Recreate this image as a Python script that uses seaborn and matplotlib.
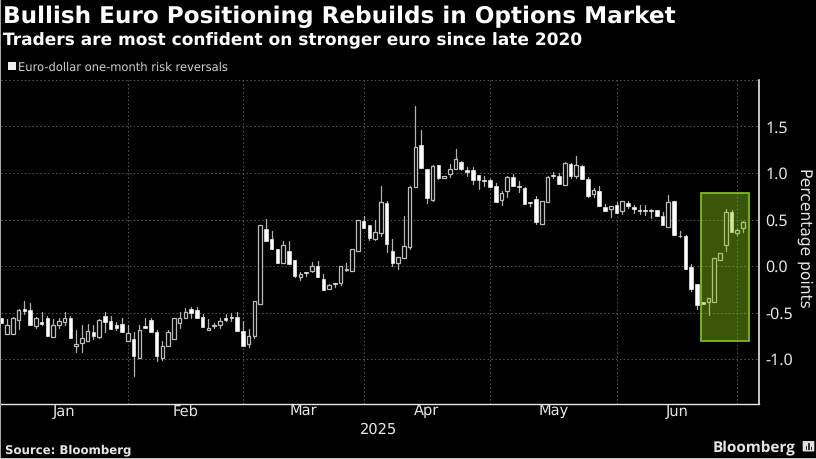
import matplotlib
matplotlib.use('Agg')
import matplotlib.pyplot as plt
import pandas as pd
import seaborn as sns
from matplotlib.patches import FancyBboxPatch, Rectangle

opens = [-0.557, -0.736, -0.729, -0.579, -0.457, -0.468, -0.643, -0.607, -0.564, -0.764,
         -0.639, -0.604, -0.557, -0.857, -0.829, -0.804, -0.704, -0.761, -0.532, -0.596,
         -0.639, -0.618, -0.807, -0.782, -0.989, -0.643, -0.579, -0.707, -0.993, -0.857,
         -0.786, -0.611, -0.561, -0.457, -0.475, -0.543, -0.686, -0.64, -0.636, -0.557,
         -0.55, -0.543, -0.696, -0.843, -0.754, -0.407, 0.40, 0.293, 0.186, 0.029,
         0.164, 0.061, -0.118, -0.061, -0.05, 0.0, -0.136, -0.25, -0.186, -0.186,
         -0.046, -0.05, 0.164, 0.489, 0.443, 0.286, 0.35, 0.682, 0.157, 0.029,
         0.082, 0.207, 0.846, 1.30, 1.043, 0.714, 1.082, 0.946, 0.986, 1.039,
         1.121, 1.032, 1.032, 0.979, 0.929, 0.921, 0.864, 0.707, 0.804, 0.961,
         0.861, 0.839, 0.693, 0.725, 0.454, 0.693, 0.979, 0.971, 0.872, 1.10,
         0.972, 1.075, 0.94, 0.772, 0.808, 0.637, 0.616, 0.655, 0.594, 0.68,
         0.637, 0.598, 0.598, 0.601, 0.605, 0.541, 0.423, 0.701, 0.325, 0.324,
         -0.009, -0.195, -0.382, -0.385, -0.392, 0.07, 0.228, 0.586, 0.36, 0.41]
closes = [-0.614, -0.632, -0.557, -0.471, -0.486, -0.636, -0.557, -0.621, -0.754, -0.639,
          -0.596, -0.557, -0.779, -0.836, -0.775, -0.70, -0.754, -0.575, -0.60, -0.675,
          -0.664, -0.707, -0.718, -0.964, -0.693, -0.661, -0.714, -0.971, -0.864, -0.707,
          -0.564, -0.557, -0.493, -0.504, -0.561, -0.657, -0.664, -0.632, -0.586, -0.575,
          -0.564, -0.696, -0.857, -0.75, -0.379, 0.446, 0.264, 0.186, 0.029, 0.221,
          0.021, -0.111, -0.089, -0.071, 0.004, -0.118, -0.254, -0.204, -0.189, 0.0,
          -0.036, 0.179, 0.496, 0.414, 0.296, 0.361, 0.689, 0.239, 0.036, 0.093,
          0.211, 0.85, 1.282, 1.054, 0.729, 1.079, 0.946, 0.968, 1.039, 1.15,
          1.043, 1.011, 0.929, 0.921, 0.914, 0.85, 0.693, 0.786, 0.961, 0.861,
          0.846, 0.664, 0.679, 0.471, 0.70, 0.961, 0.968, 0.882, 1.107, 0.972,
          1.082, 0.94, 0.751, 0.815, 0.648, 0.594, 0.641, 0.573, 0.694, 0.641,
          0.612, 0.587, 0.587, 0.591, 0.534, 0.438, 0.687, 0.335, 0.32, -0.027,
          -0.245, -0.418, -0.41, -0.349, 0.091, 0.145, 0.586, 0.367, 0.389, 0.468]
highs = [-0.557, -0.568, -0.55, -0.46, -0.371, -0.396, -0.55, -0.489, -0.532, -0.568,
         -0.561, -0.489, -0.532, -0.693, -0.639, -0.621, -0.639, -0.568, -0.496, -0.54,
         -0.604, -0.557, -0.639, -0.711, -0.639, -0.557, -0.561, -0.693, -0.807, -0.693,
         -0.557, -0.496, -0.454, -0.436, -0.443, -0.521, -0.568, -0.61, -0.557, -0.521,
         -0.507, -0.496, -0.586, -0.682, -0.379, 0.446, 0.504, 0.379, 0.186, 0.271,
         0.268, 0.068, -0.064, -0.061, 0.043, 0.05, -0.086, -0.189, -0.186, 0.0,
         0.029, 0.179, 0.496, 0.543, 0.443, 0.50, 0.857, 0.704, 0.286, 0.093,
         0.539, 0.857, 1.721, 1.461, 1.043, 1.086, 1.089, 0.968, 1.096, 1.257,
         1.132, 1.068, 1.061, 0.979, 0.968, 0.936, 0.889, 0.811, 0.971, 0.986,
         0.918, 0.846, 0.693, 0.757, 0.70, 0.971, 1.014, 1.0, 1.121, 1.11,
         1.185, 1.085, 0.954, 0.843, 0.861, 0.669, 0.641, 0.687, 0.694, 0.698,
         0.658, 0.651, 0.651, 0.608, 0.605, 0.577, 0.765, 0.701, 0.375, 0.33,
         0.027, -0.188, -0.382, -0.349, 0.091, 0.145, 0.611, 0.60, 0.403, 0.486]
lows = [-0.614, -0.736, -0.729, -0.675, -0.514, -0.636, -0.664, -0.632, -0.754, -0.764,
        -0.664, -0.632, -0.779, -0.929, -0.929, -0.804, -0.789, -0.775, -0.704, -0.675,
        -0.693, -0.707, -0.807, -1.186, -0.989, -0.661, -0.714, -1.021, -1.007, -0.857,
        -0.786, -0.664, -0.561, -0.557, -0.561, -0.657, -0.686, -0.67, -0.664, -0.596,
        -0.593, -0.696, -0.857, -0.871, -0.779, -0.407, 0.264, 0.186, 0.029, 0.029,
        0.021, -0.121, -0.15, -0.107, -0.068, -0.118, -0.254, -0.25, -0.229, -0.2,
        -0.05, -0.05, 0.164, 0.414, 0.279, 0.279, 0.325, 0.154, 0.0, -0.032,
        0.082, 0.186, 0.846, 1.054, 0.675, 0.696, 0.936, 0.946, 0.961, 1.039,
        1.036, 0.971, 0.879, 0.829, 0.864, 0.85, 0.693, 0.661, 0.743, 0.861,
        0.793, 0.664, 0.643, 0.454, 0.454, 0.693, 0.946, 0.882, 0.872, 0.947,
        0.947, 0.94, 0.74, 0.74, 0.641, 0.594, 0.527, 0.569, 0.562, 0.626,
        0.569, 0.555, 0.544, 0.52, 0.534, 0.438, 0.423, 0.335, 0.31, -0.027,
        -0.267, -0.464, -0.41, -0.529, -0.392, 0.07, 0.159, 0.367, 0.332, 0.367]

month_labels = ['Jan', 'Feb', 'Mar', 'Apr', 'May', 'Jun']
year_label = '2025'
y_ticks = [-1.0, -0.5, 0.0, 0.5, 1.0, 1.5]

sns.set_theme(style='dark', rc={
    'figure.facecolor': 'black', 'axes.facecolor': 'black', 'savefig.facecolor': 'black',
    'text.color': '#e6e6e6', 'axes.labelcolor': '#e6e6e6',
    'xtick.color': '#e6e6e6', 'ytick.color': '#e6e6e6', 'axes.edgecolor': '#e6e6e6',
    'axes.unicode_minus': False, 'text.hinting': 'no_hinting',
})
plt.rcParams['font.family'] = ['DejaVu Sans']

dates = pd.bdate_range('2025-01-01', periods=len(opens))
df = pd.DataFrame({'open': opens, 'close': closes, 'high': highs, 'low': lows}, index=dates)
df['bar'] = range(len(df))

fig = plt.figure(figsize=(8.16, 4.59), dpi=100)
ax = fig.add_axes([0.6 / 816, 1 - 403.5 / 459, 758.7 / 816, 324 / 459])

# wicks, one short line per session
wicks = df.melt(id_vars='bar', value_vars=['low', 'high'], value_name='value')
sns.lineplot(data=wicks, x='bar', y='value', units='bar', estimator=None,
             color='#b0b0b0', linewidth=0.9, legend=False, ax=ax, zorder=3)

# bodies, white when the session closed lower, hollow when higher
down = df[df['close'] < df['open']]
up = df[df['close'] >= df['open']]
ax.bar(down['bar'], (down['open'] - down['close']), bottom=down['close'], width=0.62,
       color='white', edgecolor='#e8e8e8', linewidth=0.5, zorder=4)
ax.bar(up['bar'], (up['close'] - up['open']), bottom=up['open'], width=0.62,
       color='black', edgecolor='#bcbcbc', linewidth=0.9, zorder=4)

ax.set_xlim(-0.12, 131.83)
ax.set_ylim(-1.478, 2.005)
ax.set_xlabel('')
ax.set_ylabel('')

# month boundaries sit on the last session of each month
month_ends = [df.index.get_loc(g.index[-1]) for _, g in df.groupby(df.index.month)][:6]
starts = [-0.12] + month_ends[:-1]
centers = [(a + b) / 2 for a, b in zip(starts, month_ends)]
ax.set_xticks(month_ends)
ax.set_xticklabels([])
ax.set_xticks(centers, minor=True)
ax.set_xticklabels(month_labels, minor=True, fontsize=10.5)
ax.tick_params(axis='x', which='major', length=3, width=0.8, color='#e6e6e6')
ax.tick_params(axis='x', which='minor', length=0, pad=1)

ax.yaxis.tick_right()
ax.set_yticks(y_ticks + [2.0])
ax.set_yticklabels([f'{v:.1f}' for v in y_ticks] + [''], fontsize=11.5, family='Noto Sans')
ax.set_yticks([-1.25, -0.75, -0.25, 0.25, 0.75, 1.25, 1.75], minor=True)
ax.tick_params(axis='y', which='major', length=3, width=1.0, pad=1.5)
ax.tick_params(axis='y', which='minor', direction='in', length=2, width=0.8, color='#8a8a8a')

for y in [-1.0, -0.5, 0.0, 0.5, 1.0, 1.5, 2.0]:
    ax.axhline(y, color='#5a5a5a', linewidth=0.7, linestyle=(0, (1.5, 2.5)), zorder=1)
for x in month_ends:
    ax.axvline(x, color='#5a5a5a', linewidth=0.7, linestyle=(0, (1.5, 2.5)), zorder=1)

sns.despine(ax=ax, top=True, left=True, right=False, bottom=False)
ax.spines['right'].set_linewidth(1.2)
ax.spines['bottom'].set_linewidth(1.0)

# highlighted last sessions
ax.add_patch(Rectangle((121.75, -0.81), 8.25, 1.595, facecolor='#8ccf14', alpha=0.42,
                       edgecolor='none', zorder=5))
ax.add_patch(Rectangle((121.75, -0.81), 8.25, 1.595, facecolor='none',
                       edgecolor='#7cbb1e', linewidth=1.3, zorder=6))

def px_text(x, y, s, **kw):
    fig.text(x / 816, 1 - y / 459, s, **kw)

px_text(3, 23, 'Bullish Euro Positioning Rebuilds in Options Market', fontsize=16.65,
        fontweight='bold', color='white')
px_text(3, 45, 'Traders are most confident on stronger euro since late 2020', fontsize=12.25,
        fontweight='bold', color='white')
fig.patches.append(Rectangle((8 / 816, 1 - 70 / 459), 7.5 / 816, 8 / 459, facecolor='#ececec',
                             edgecolor='none', transform=fig.transFigure))
px_text(18, 71, 'Euro-dollar one-month risk reversals', fontsize=8.3, color='#d0d0d0')
px_text(379, 434, year_label, fontsize=10.5, ha='center', color='#e6e6e6')
px_text(805, 238, 'Percentage points', fontsize=11.2, rotation=-90, ha='center', va='center',
        color='#e6e6e6')
px_text(5, 453, 'Source: Bloomberg', fontsize=8.5, fontweight='bold', color='#e6e6e6')
px_text(713, 452, 'Bloomberg', fontsize=11, fontweight='bold', color='#e6e6e6', family='Open Sans')

# small terminal icon next to the wordmark
fig.patches.append(FancyBboxPatch((803.5 / 816, 1 - 451 / 459), 10 / 816, 9.5 / 459,
                                  boxstyle='round,pad=0.001', facecolor='#e0e0e0',
                                  edgecolor='none', transform=fig.transFigure))
for bx, bh in [(806, 4), (808.3, 7), (810.6, 3)]:
    fig.patches.append(Rectangle((bx / 816, 1 - 449.5 / 459), 1.2 / 816, bh / 459,
                                 facecolor='#333333', edgecolor='none',
                                 transform=fig.transFigure))

# thin light edge of the screenshot along the left and bottom
fig.patches.append(Rectangle((0, 0), 1 / 816, 1, facecolor='#a8a8a8', edgecolor='none',
                             transform=fig.transFigure))
fig.patches.append(Rectangle((0, 0), 1, 1 / 459, facecolor='#c8c8c8', edgecolor='none',
                             transform=fig.transFigure))

fig.savefig('out.png', dpi=100)
